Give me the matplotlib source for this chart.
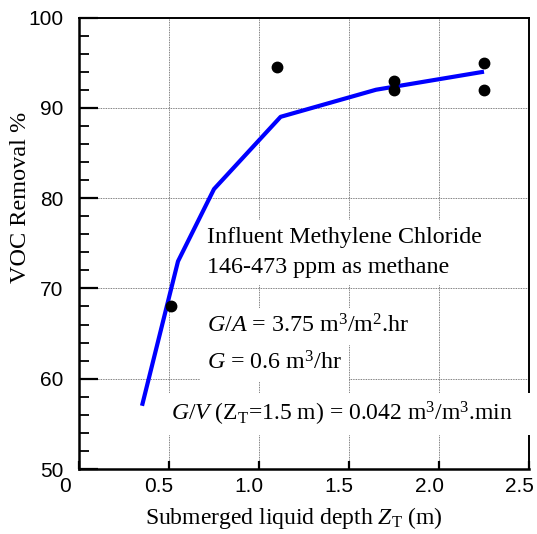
import matplotlib
matplotlib.use("Agg")
import matplotlib.pyplot as plt
import matplotlib.transforms as mtransforms
import numpy as np

# measured points
depth_pts = [0.51, 1.10, 1.75, 1.75, 2.25, 2.25]
removal_pts = [68.0, 94.5, 93.0, 92.0, 95.0, 92.0]

# fitted curve
depth_fit = [0.35, 0.55, 0.75, 1.12, 1.65, 2.25]
removal_fit = [57.0, 73.0, 81.0, 89.0, 92.0, 94.0]

xticks = [0, 0.5, 1.0, 1.5, 2.0, 2.5]
xtick_labels = ["0", "0.5", "1.0", "1.5", "2.0", "2.5"]
yticks = [50, 60, 70, 80, 90, 100]

plt.rcParams["mathtext.fontset"] = "custom"
plt.rcParams["mathtext.rm"] = "Liberation Serif"
plt.rcParams["mathtext.it"] = "Liberation Serif:italic"

SERIF = "Liberation Serif"
SANS = "Liberation Sans"

fig = plt.figure(figsize=(5.37, 5.34), dpi=100)
ax = fig.add_axes([79 / 537, 65 / 534, 450 / 537, 451.5 / 534])

ax.plot(depth_fit, removal_fit, color="#0000ff", linewidth=3.0, zorder=4,
        solid_capstyle="butt")
ax.plot(depth_pts, removal_pts, "o", color="black", markersize=7.5, zorder=5)

ax.set_xlim(0, 2.5)
ax.set_ylim(50, 100)

# grid (dotted, only interior lines)
for gx in [0.5, 1.0, 1.5, 2.0]:
    ax.axvline(gx, color="#555555", linestyle=(0, (1, 1)), linewidth=0.6, zorder=1)
for gy in [60, 70, 80, 90]:
    ax.axhline(gy, color="#555555", linestyle=(0, (1, 1)), linewidth=0.6, zorder=1)

ax.set_yticks(yticks)
ax.set_yticks(np.arange(50, 101, 2), minor=True)
ax.set_yticklabels([str(v) for v in yticks], fontfamily=SANS, fontsize=15)
ax.tick_params(axis="y", which="major", direction="in", length=14, width=1.6, pad=11)
ax.tick_params(axis="y", which="minor", direction="in", length=7, width=1.3)

ax.set_xticks(xticks)
ax.set_xticklabels(xtick_labels, fontfamily=SANS, fontsize=15)
ax.tick_params(axis="x", which="major", direction="in", length=6, width=1.6, pad=6)

# x tick labels sit a bit left of their ticks
for i, lab in enumerate(ax.get_xticklabels()):
    dx = -14 if i == 0 else -10
    lab.set_transform(lab.get_transform() +
                      mtransforms.ScaledTranslation(dx / 100, 0, fig.dpi_scale_trans))

for side in ["left", "bottom"]:
    ax.spines[side].set_linewidth(1.8)
for side in ["top", "right"]:
    ax.spines[side].set_linewidth(1.4)

fig.text(21 / 537, 1 - 197 / 534, "VOC Removal %", rotation=90, ha="center",
         va="center", fontfamily=SERIF, fontsize=17.5)
fig.text(294 / 537, 1 - 518 / 534, r"Submerged liquid depth $Z_\mathrm{T}$ (m)",
         ha="center", va="center", fontfamily=SERIF, fontsize=17)

box = dict(boxstyle="square,pad=0.3", facecolor="white", edgecolor="none")
kw = dict(fontfamily=SERIF, fontsize=17.3, ha="left", va="center", zorder=3, bbox=box)

ax.text(0.711, 75.6, "Influent Methylene Chloride", **kw)
ax.text(0.711, 72.3, "146-473 ppm as methane", **kw)
ax.text(0.711, 65.8, r"$G/A$ = 3.75 m$^3$/m$^2$.hr    ", **kw)
ax.text(0.711, 61.7, r"$G$ = 0.6 m$^3$/hr", **kw)
kw["fontsize"] = 17
t = ax.text(0.511, 56.1, r"$G/V$ (Z$_\mathrm{T}$=1.5 m) = 0.042 m$^3$/m$^3$.min   ",
            **kw)
t.set_clip_on(False)

fig.savefig("out.png", dpi=100)
